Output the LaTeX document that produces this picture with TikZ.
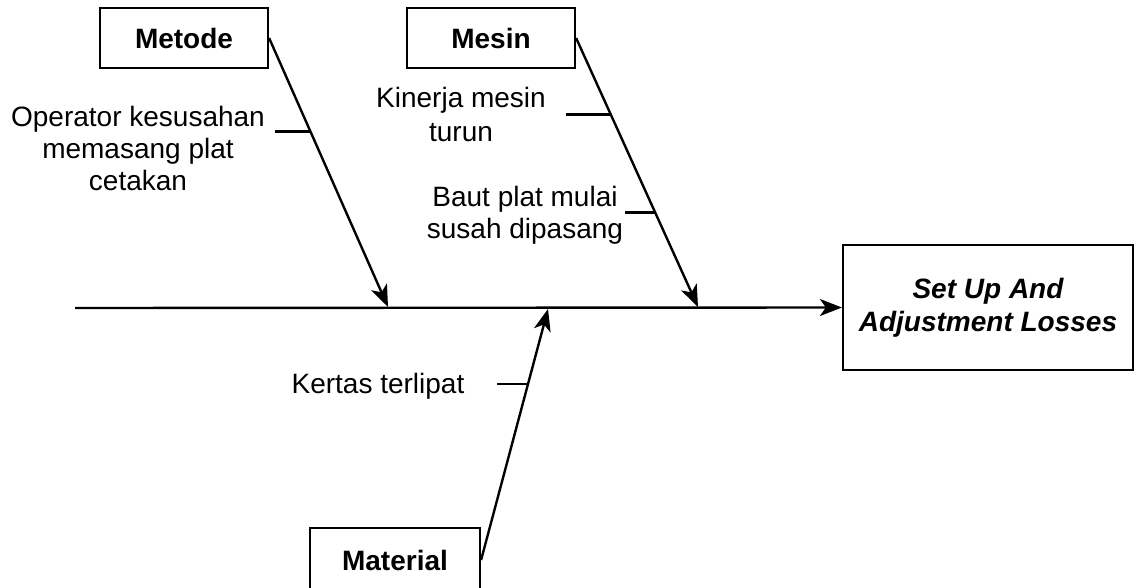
\documentclass[tikz,border=0pt]{standalone}
\usepackage{fontspec}
\setmainfont{Liberation Sans}
\usetikzlibrary{arrows.meta,calc}
\tikzset{
  catbox/.style={draw=black,line width=2.2pt,rectangle,minimum height=60pt,inner sep=0pt,
    font=\fontsize{28}{32}\selectfont\bfseries},
  effbox/.style={draw=black,line width=2.2pt,rectangle,minimum width=290pt,minimum height=125pt,inner sep=0pt,
    align=center,font=\fontsize{28}{33}\selectfont\bfseries\itshape},
  lbl/.style={align=center,inner sep=0pt,anchor=base,font=\fontsize{28}{32}\selectfont},
  bone/.style={line width=2.4pt,draw=black,-{Stealth[length=22pt,width=17pt,inset=6pt]}},
  tick/.style={line width=2.4pt,draw=black},
}
\begin{document}
\begin{tikzpicture}[x=1pt,y=-1pt]
\useasboundingbox (0,0) rectangle (1135,588);
% boxes
\node[catbox,minimum width=168pt] (metode) at (184,38) {Metode};
\node[catbox,minimum width=168pt] (mesin) at (491,38) {Mesin};
\node[catbox,minimum width=170pt,minimum height=64pt] (material) at (395,560) {Material};
\node[effbox] (effect) at (988,307.5) {Set Up And\\Adjustment Losses};
% spine
\coordinate (s0) at (75,308);
\draw[bone] (s0) -- (effect.west);
% joints on spine
\coordinate (jm) at (388,307);
\coordinate (jme) at (698,307);
\coordinate (jma) at (548,309);
\draw[bone] (metode.east) -- (jm);
\draw[bone] (mesin.east) -- (jme);
\draw[bone] (material.east) -- (jma);
% sub-cause ticks
\coordinate (m1) at ($(metode.east)!0.348!(jm)$);
\draw[tick] (m1) -- ([xshift=-35pt]m1);
\coordinate (me1) at ($(mesin.east)!0.285!(jme)$);
\draw[tick] (me1) -- ([xshift=-45pt]me1);
\coordinate (me2) at ($(mesin.east)!0.648!(jme)$);
\draw[tick] (me2) -- ([xshift=-30pt]me2);
\coordinate (ma1) at ($(material.east)!0.701!(jma)$);
\draw[tick] (ma1) -- ([xshift=-31pt]ma1);
% labels (anchor at baseline of last line)
\node[lbl] (op) at (138,191) {Operator kesusahan\\memasang plat\\cetakan};
\node[lbl,font=\fontsize{28}{34}\selectfont] (kin) at (461,142) {Kinerja mesin\\turun};
\node[lbl] (baut) at (525,238) {Baut plat mulai\\susah dipasang};
\node[lbl] (kertas) at (378,393) {Kertas terlipat};
\end{tikzpicture}
\end{document}
